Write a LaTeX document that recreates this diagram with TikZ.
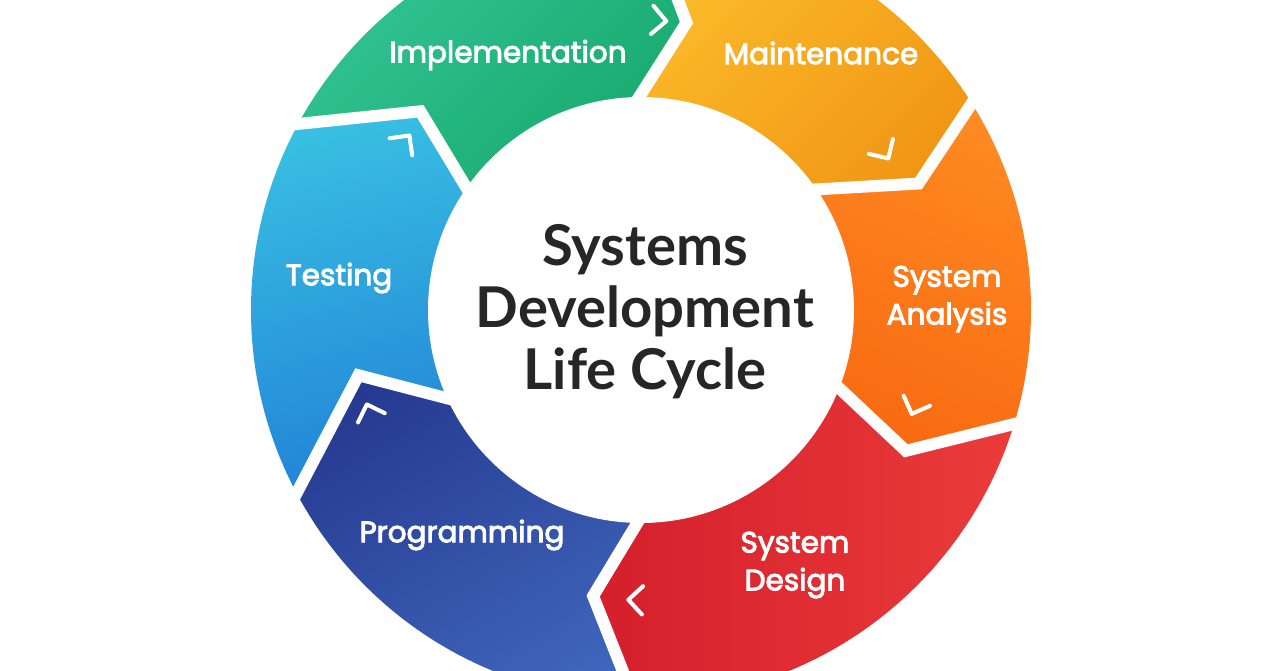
\documentclass[tikz,border=0pt]{standalone}
\usepackage{fontspec}
\setmainfont{Lato}
\newfontfamily\phasefont{Poppins}[BoldFont=Poppins, BoldFeatures={FakeBold=3.2}]

\definecolor{implA}{HTML}{3ACAA0}
\definecolor{implB}{HTML}{12A565}
\definecolor{maintA}{HTML}{FCC02C}
\definecolor{maintB}{HTML}{EE8A0E}
\definecolor{analysisA}{HTML}{FF8E24}
\definecolor{analysisB}{HTML}{F8650F}
\definecolor{designA}{HTML}{D41F2C}
\definecolor{designB}{HTML}{EE403C}
\definecolor{progA}{HTML}{22338A}
\definecolor{progB}{HTML}{4069BE}
\definecolor{testA}{HTML}{3AC4E3}
\definecolor{testB}{HTML}{1E78D5}
\definecolor{titlegray}{HTML}{262626}

\begin{document}
\begin{tikzpicture}[x=0.02cm, y=0.02cm,
    phase/.style={text=white, align=center, font=\phasefont\bfseries\fontsize{16.8}{21.5}\selectfont},
    title/.style={text=titlegray, align=center, font=\bfseries\fontsize{32}{35.3}\selectfont},
    gap/.style={draw=white, line width=6.8pt, line join=miter, shorten <=-8pt, shorten >=-8pt},
    tick/.style={draw=white, line width=2.3pt, line cap=round, line join=round}]

    % Frame
    \useasboundingbox (-641,-360) rectangle (639,310);
    \fill[white] (-641,-360) rectangle (639,310);

    % Phase boundaries: inner end, tip, outer end
    \coordinate (im-in) at (90.5:213);  \coordinate (im-tip) at (81:291);   \coordinate (im-out) at (89:390);
    \coordinate (ma-in) at (34.5:213);  \coordinate (ma-tip) at (24.5:305); \coordinate (ma-out) at (32:390);
    \coordinate (ad-in) at (-21.5:213); \coordinate (ad-tip) at (-28:300);  \coordinate (ad-out) at (-17:390);
    \coordinate (dp-in) at (-91:213);   \coordinate (dp-tip) at (-99.5:290); \coordinate (dp-out) at (-91:390);
    \coordinate (pt-in) at (204.5:213); \coordinate (pt-tip) at (193:290);  \coordinate (pt-out) at (208:390);
    \coordinate (ti-in) at (145:213);   \coordinate (ti-tip) at (138:297);  \coordinate (ti-out) at (151.5:390);

    % Ring of phases
    \begin{scope}
        \clip (0,0) circle (390);
        % Implementation
        \shade[top color=implA, bottom color=implB, shading angle=45]
            (0,0) -- (ti-in) -- (ti-tip) -- (ti-out) -- (151.5:460)
            arc[start angle=151.5, end angle=89, radius=460]
            -- (im-out) -- (im-tip) -- (im-in) -- cycle;
        % Maintenance
        \shade[top color=maintA, bottom color=maintB, shading angle=45]
            (0,0) -- (im-in) -- (im-tip) -- (im-out) -- (89:460)
            arc[start angle=89, end angle=32, radius=460]
            -- (ma-out) -- (ma-tip) -- (ma-in) -- cycle;
        % System Analysis
        \shade[top color=analysisA, bottom color=analysisB, shading angle=-25]
            (0,0) -- (ma-in) -- (ma-tip) -- (ma-out) -- (32:460)
            arc[start angle=32, end angle=-17, radius=460]
            -- (ad-out) -- (ad-tip) -- (ad-in) -- cycle;
        % System Design
        \shade[left color=designA, right color=designB]
            (0,0) -- (ad-in) -- (ad-tip) -- (ad-out) -- (-17:460)
            arc[start angle=-17, end angle=-91, radius=460]
            -- (dp-out) -- (dp-tip) -- (dp-in) -- cycle;
        % Programming
        \shade[top color=progA, bottom color=progB, shading angle=30]
            (0,0) -- (dp-in) -- (dp-tip) -- (dp-out) -- (-91:460)
            arc[start angle=-91, end angle=-152, radius=460]
            -- (pt-out) -- (pt-tip) -- (pt-in) -- cycle;
        % Testing
        \shade[top color=testA, bottom color=testB, shading angle=15]
            (0,0) -- (pt-in) -- (pt-tip) -- (pt-out) -- (208:460)
            arc[start angle=208, end angle=151.5, radius=460]
            -- (ti-out) -- (ti-tip) -- (ti-in) -- cycle;
    \end{scope}

    % Hub
    \fill[white] (0,0) circle (213);

    % White gaps between phases
    \foreach \b in {im,ma,ad,dp,pt,ti}
        \draw[gap] (\b-out) -- (\b-tip) -- (\b-in);

    % Small chevrons pointing clockwise
    \foreach \a in {85,31.5,-21,-92.5,199,143}
        \draw[tick] ({\a}:290) ++({\a+45}:20) -- ({\a}:290) -- ++({\a+135}:20);

    % Labels
    \node[phase] (impl) at (-133,255) {Implementation};
    \node[phase] (maint) at (180,257) {Maintenance};
    \node[phase] (analysis) at (306,11) {System\\Analysis};
    \node[phase] (design) at (154,-255) {System\\Design};
    \node[phase] (prog) at (-179,-225) {Programming};
    \node[phase] (test) at (-302,32) {Testing};
    \node[title] (sdlc) at (4,-2) {Systems\\Development\\Life Cycle};

\end{tikzpicture}
\end{document}
